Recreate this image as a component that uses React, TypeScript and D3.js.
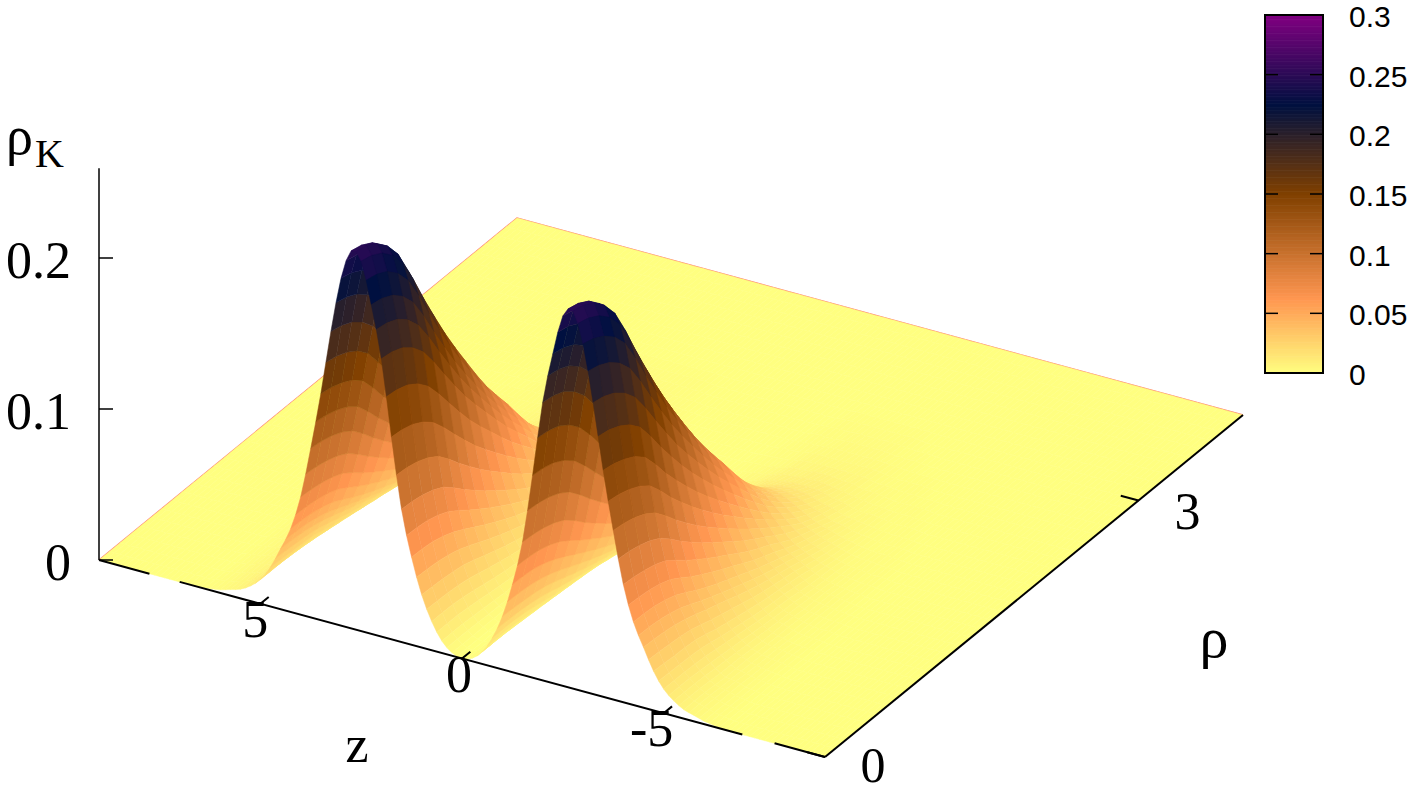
import React from "react";
import * as d3 from "d3";

// Density, in thousandths, one row per rho, one value per |z| step of 0.25.
// Trailing values that are left out are zero; the two bells mirror each other around z = 0.
const zStep = 0.25;
const rhoStep = 0.2;
const row00 = [0,2,8,19,35,58,88,134,184,218,245,250,230,193,150,112,78,55,40,26,16,10,6,4,2,1];
const row02 = [0,2,8,19,34,57,86,131,180,213,239,244,224,188,146,109,76,54,39,25,16,10,6,4,2,1];
const row04 = [0,2,7,17,32,52,80,121,166,197,221,226,208,174,136,101,71,50,36,24,15,9,5,4,2,1];
const row06 = [0,2,6,14,27,44,67,102,140,166,186,190,175,147,114,85,60,42,31,20,13,8,5,3,2,1];
const row08 = [0,1,5,12,22,36,55,83,114,135,152,155,143,120,94,70,50,35,26,17,11,7,4,3,2,1];
const row10 = [0,1,4,10,18,29,44,67,92,108,122,124,115,97,76,57,41,29,21,14,9,6,4,2,1,1];
const row12 = [0,1,3,7,14,23,34,52,71,84,94,96,89,76,60,45,32,23,17,12,8,5,3,2,1,1];
const row14 = [0,1,2,6,10,17,26,39,53,63,71,72,67,57,45,34,25,18,14,10,6,4,3,2,1];
const row16 = [0,0,2,4,7,12,17,26,35,43,47,48,45,39,31,24,17,13,10,7,5,3,2,1,1];
const row18 = [0,0,1,2,4,7,11,17,23,27,30,31,29,25,20,15,12,9,7,5,3,2,2,1,1];
const row20 = [0,0,1,1,3,4,7,10,14,16,18,18,17,15,12,10,7,6,4,3,2,1,1,1];
const row22 = [0,0,0,1,1,3,4,6,8,9,10,10,10,9,7,6,4,3,3,2,1,1,1];
const row24 = [0,0,0,0,1,1,2,3,5,5,6,6,6,5,5,3,3,2,1,1,1,1];
const row26 = [0,0,0,0,0,1,1,2,3,3,3,3,3,3,3,2,1,1,1,1];
const row28 = [0,0,0,0,0,0,1,1,1,2,2,2,2,2,1,1,1];
const row30 = [0,0,0,0,0,0,0,1,1,1,1,1,1,1,1];
const densityRows = [row00,row02,row04,row06,row08,row10,row12,row14,row16,row18,row20,row22,row24,row26,row28,row30];

const zTicks = [5, 0, -5];
const rhoTicks = [0, 3];
const heightTicks = [0, 0.1, 0.2];
const colorTicks = [0, 0.05, 0.1, 0.15, 0.2, 0.25, 0.3];
const axisGapsZ = [[7.75, 7.0], [-6.95, -7.75]];
const paletteStops = [0, 0.0625, 0.15, 0.225, 0.3];
const paletteColors = ["#ffff80", "#ff9650", "#804000", "#001040", "#800080"];

const cellValue = (ri: number, zi: number) => {
  const row = densityRows[Math.max(ri, 0)];
  if (!row) return 0;
  return (row[Math.abs(zi)] ?? 0) / 1000;
};
const cubic = (a: number, b: number, c: number, d: number, t: number) =>
  b + 0.5 * t * (c - a + t * (2 * a - 5 * b + 4 * c - d + t * (3 * (b - c) + d - a)));

// like a smoothed mesh: shading between the table's nodes
const density = (rho: number, z: number) => {
  const fr = rho / rhoStep;
  const fz = z / zStep;
  const r0 = Math.floor(fr + 1e-9);
  const z0 = Math.floor(fz + 1e-9);
  const tr = fr - r0;
  const tz = fz - z0;
  const across = [-1, 0, 1, 2].map((dr) =>
    cubic(
      cellValue(r0 + dr, z0 - 1),
      cellValue(r0 + dr, z0),
      cellValue(r0 + dr, z0 + 1),
      cellValue(r0 + dr, z0 + 2),
      tz
    )
  );
  return Math.max(0, cubic(across[0], across[1], across[2], across[3], tr));
};

const palette = d3.scaleLinear<string>().domain(paletteStops).range(paletteColors).interpolate(d3.interpolateRgb);

const uScale = d3.scaleLinear().domain([9, -9]).range([0, 1]);
const vScale = d3.scaleLinear().domain([0, 4]).range([0, 1]);
const hScale = d3.scaleLinear().domain([0, 0.1]).range([0, 151]);
const cbScale = d3.scaleLinear().domain([0, 0.3]).range([373, 15]);

const project = (z: number, rho: number, h = 0): [number, number] => {
  const u = uScale(z);
  const v = vScale(rho);
  return [99 + 726 * u + 418 * v, 560 + 197 * u - 342 * v - hScale(h)];
};

const meshZ = d3.range(0, 145).map((i) => 9 - i * 0.125);
const meshRho = d3.range(0, 41).map((i) => i * 0.1);
const line = d3.line();

export default function App() {
  const grid = meshRho.map((rho) => meshZ.map((z) => density(rho, z)));
  const cells: { d: string; c: string }[] = [];
  for (let r = meshRho.length - 2; r >= 0; r--) {
    for (let c = 0; c < meshZ.length - 1; c++) {
      const z0 = meshZ[c], z1 = meshZ[c + 1];
      const a = grid[r][c], b = grid[r][c + 1], e = grid[r + 1][c + 1], f = grid[r + 1][c];
      const pts = [
        project(z0, meshRho[r], a),
        project(z1, meshRho[r], b),
        project(z1, meshRho[r + 1], e),
        project(z0, meshRho[r + 1], f),
      ];
      cells.push({ d: line(pts)! + "Z", c: palette((a + b + e + f) / 4) });
    }
  }

  const serif = "'Liberation Serif', serif";
  const sans = "'Liberation Sans', sans-serif";
  const barN = 256;
  const barSteps = d3.range(0, barN).map((i) => (i * 0.3) / barN);

  const axisStops = [9, ...axisGapsZ.flat(), -9];
  const axisSegs = d3.range(0, axisStops.length, 2).map((i) => [axisStops[i], axisStops[i + 1]]);
  const zLabelDx: Record<number, number> = { 5: -5, 0: -3, [-5]: -12 };
  const zLabelDy: Record<number, number> = { 5: 16, 0: 16, [-5]: 15 };

  return (
    <svg width={1414} height={793} style={{ position: "absolute", left: 0, top: 0, background: "#fff" }}>
      <path
        d={line([project(9, 0), project(9, 4), project(-9, 4)])!}
        fill="none"
        stroke="#ff7070"
        strokeWidth={1.4}
      />
      <g>
        {cells.map((q, i) => (
          <path key={i} d={q.d} fill={q.c} stroke={q.c} strokeWidth={0.5} strokeLinejoin="round" />
        ))}
      </g>

      {/* base axes */}
      {axisSegs.map(([a, b], i) => (
        <path key={i} d={line([project(a, 0), project(b, 0)])!} stroke="#000" strokeWidth={2} fill="none" />
      ))}
      <path d={line([project(-9, 0), project(-9, 4)])!} stroke="#000" strokeWidth={2} fill="none" />
      {zTicks.map((t) => (
        <path key={t} d={line([project(t, 0), project(t, 0.08)])!} stroke="#000" strokeWidth={2} fill="none" />
      ))}
      {rhoTicks.map((t) => (
        <path key={t} d={line([project(-9, t), project(-8.56, t)])!} stroke="#000" strokeWidth={2} fill="none" />
      ))}
      {/* vertical axis */}
      <path d={line([project(9, 0), project(9, 0, 0.2595)])!} stroke="#000" strokeWidth={1.5} fill="none" />
      {heightTicks.map((t) => {
        const [x, y] = project(9, 0, t);
        return <path key={t} d={line([[x, y], [x + 14, y]])!} stroke="#000" strokeWidth={1.5} fill="none" />;
      })}

      {/* labels */}
      <g fontFamily={serif} fontSize={52} fill="#000" dominantBaseline="central">
        {heightTicks.map((t) => {
          const [, y] = project(9, 0, t);
          return (
            <text key={t} x={71} y={y + 2} textAnchor="end">
              {String(t)}
            </text>
          );
        })}
        {zTicks.map((t) => {
          const [x, y] = project(t, 0);
          return (
            <text key={t} x={x + zLabelDx[t]} y={y + zLabelDy[t]} textAnchor="middle">
              {String(t)}
            </text>
          );
        })}
        {rhoTicks.map((t) => {
          const [x, y] = project(-9, t);
          return (
            <text key={t} x={x + (t === 3 ? 49 : 48)} y={y + (t === 3 ? 11 : 8)} textAnchor="middle" fontSize={t === 3 ? 52 : 50}>
              {String(t)}
            </text>
          );
        })}
        <text x={357} y={744} textAnchor="middle">z</text>
        <text x={1214} y={637} textAnchor="middle" fontSize={58}>ρ</text>
        <text x={6} y={136} fontSize={54}>ρ</text>
        <text x={35} y={153} fontSize={40}>K</text>
      </g>

      {/* colour box */}
      {barSteps.map((v, i) => (
        <rect
          key={i}
          x={1265}
          width={58}
          y={cbScale(v + 0.3 / barN)}
          height={cbScale(v) - cbScale(v + 0.3 / barN) + 0.6}
          fill={palette(v + 0.15 / barN)}
        />
      ))}
      <rect x={1265} y={15} width={58} height={358} fill="none" stroke="#000" strokeWidth={2} />
      {colorTicks.map((t) => (
        <g key={t}>
          <path d={line([[1265, cbScale(t)], [1278, cbScale(t)]])!} stroke="#000" strokeWidth={1.5} />
          <path d={line([[1310, cbScale(t)], [1323, cbScale(t)]])!} stroke="#000" strokeWidth={1.5} />
          <text x={1349} y={cbScale(t) + 1.5} fontFamily={sans} fontSize={30} fill="#000" dominantBaseline="central">
            {String(t)}
          </text>
        </g>
      ))}
    </svg>
  );
}
